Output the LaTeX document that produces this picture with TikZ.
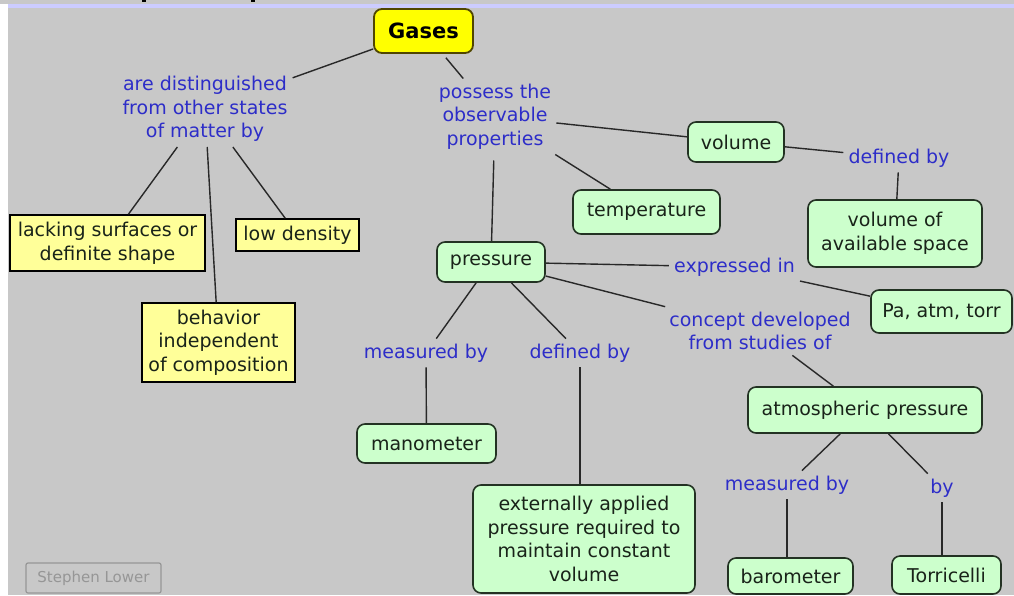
\documentclass[tikz,border=0pt]{standalone}
\usepackage{fontspec}
\setmainfont{DejaVu Sans}
\definecolor{bg}{RGB}{200,200,200}
\definecolor{band}{RGB}{204,204,255}
\definecolor{lblue}{RGB}{45,45,200}
\definecolor{gfill}{RGB}{204,255,204}
\definecolor{gdraw}{RGB}{35,50,35}
\definecolor{yfill}{RGB}{255,255,153}
\definecolor{gyfill}{RGB}{255,255,0}
\definecolor{gydraw}{RGB}{80,70,0}
\definecolor{lineC}{RGB}{40,40,40}
\definecolor{txt}{RGB}{25,35,25}
\definecolor{sig}{RGB}{150,150,150}
\tikzset{
  base/.style={font=\fontsize{19}{23.6}\selectfont, align=center, inner sep=0pt},
  lbl/.style={base, text=lblue, inner sep=5pt},
  gbox/.style={base, draw=gdraw, fill=gfill, rounded corners=8pt, line width=1.6pt, text=txt},
  ybox/.style={base, draw=black, fill=yfill, line width=1.5pt, text=txt},
  conn/.style={draw=lineC, line width=1.4pt},
}
\begin{document}
\begin{tikzpicture}[x=1pt,y=-1pt]
\useasboundingbox (0,0) rectangle (1014,595);
\fill[bg] (0,0) rectangle (1014,595);
\fill[white] (0,4) rectangle (8,595);
\fill[band] (8,4) rectangle (1014,8);
\fill[black] (142,0) rectangle (146,2);
\fill[black] (251,0) rectangle (255,2);

% concepts
\node[base, draw=gydraw, fill=gyfill, rounded corners=8pt, line width=1.8pt,
      minimum width=99pt, minimum height=44pt, font=\fontsize{21}{24}\selectfont\bfseries] (gases) at (423.5,31) {Gases};
\node[lbl] (dist) at (205,109) {are distinguished\\from other states\\of matter by};
\node[ybox, minimum width=195pt, minimum height=56pt] (lack) at (107.5,243) {lacking surfaces or\\definite shape};
\node[ybox, minimum width=123pt, minimum height=32pt] (low) at (297.5,235) {low density};
\node[ybox, minimum width=153pt, minimum height=79pt] (behav) at (218.5,342.5) {behavior\\independent\\of composition};
\node[lbl] (poss) at (495,116.5) {possess the\\observable\\properties};
\node[gbox, minimum width=96pt, minimum height=40pt] (volume) at (736,142) {volume};
\node[lbl] (defT) at (899,158) {defined by};
\node[gbox, minimum width=174pt, minimum height=67pt] (vspace) at (895,233.5) {volume of\\available space};
\node[gbox, minimum width=147pt, minimum height=44pt] (temp) at (646.5,212) {temperature};
\node[gbox, minimum width=108pt, minimum height=40pt] (press) at (491,262) {pressure};
\node[lbl] (expr) at (734.5,267) {expressed in};
\node[gbox, minimum width=141pt, minimum height=43pt] (pa) at (941.5,311.5) {Pa, atm, torr};
\node[lbl] (conc) at (760,331) {concept developed\\from studies of};
\node[lbl] (measL) at (426,353) {measured by};
\node[lbl] (defM) at (580,353) {defined by};
\node[gbox, minimum width=139pt, minimum height=39pt] (mano) at (426.5,443.5) {manometer};
\node[gbox, minimum width=222pt, minimum height=108pt] (ext) at (584,539) {externally applied\\pressure required to\\maintain constant\\volume};
\node[gbox, minimum width=234pt, minimum height=46pt] (atm) at (865,410) {atmospheric pressure};
\node[lbl] (measR) at (787,485) {measured by};
\node[lbl] (by) at (942,488) {by};
\node[gbox, minimum width=125pt, minimum height=36pt] (baro) at (790.5,576) {barometer};
\node[gbox, minimum width=109pt, minimum height=38pt] (torr) at (946.5,575) {Torricelli};
\node[base, draw=sig, text=sig, rounded corners=2pt, line width=1.2pt,
      minimum width=135pt, minimum height=30pt, font=\fontsize{15}{18}\selectfont] (sl) at (93.5,578) {Stephen Lower};

% connectors
\draw[conn] (gases) -- (dist);
\draw[conn, shorten <=5pt] (gases) -- (poss);
\draw[conn] (dist) -- (lack);
\draw[conn] (dist) -- (behav);
\draw[conn] (dist) -- (low);
\draw[conn] (poss) -- (volume);
\draw[conn] (poss) -- (temp);
\draw[conn, shorten <=6pt] (poss) -- (press);
\draw[conn] (volume) -- (defT);
\draw[conn] (defT) -- (vspace);
\draw[conn] (press) -- (expr);
\draw[conn] (expr) -- (pa);
\draw[conn] (press) -- (conc);
\draw[conn] (conc) -- (atm);
\draw[conn] (press) -- (measL);
\draw[conn] (press) -- (defM);
\draw[conn] (measL) -- (mano);
\draw[conn] (defM.south) -- (defM.south |- ext.north);
\draw[conn] (atm) -- (measR);
\draw[conn] (atm) -- (by);
\draw[conn] (measR.south) -- (measR.south |- baro.north);
\draw[conn] (by.south) -- (by.south |- torr.north);
\end{tikzpicture}
\end{document}
